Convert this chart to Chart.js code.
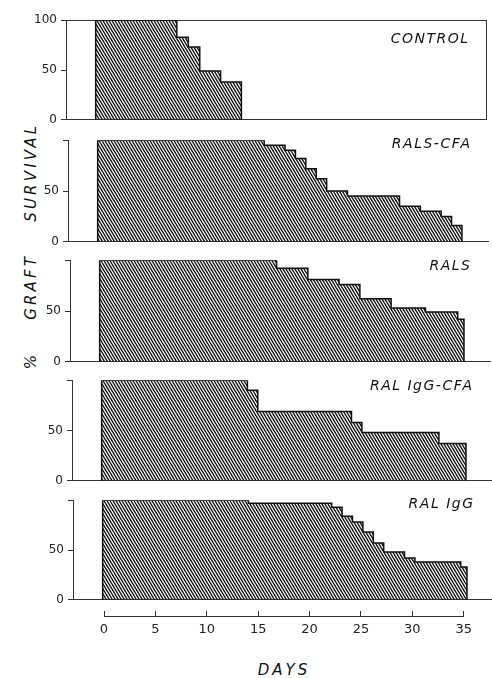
<!DOCTYPE html>
<html>
<head>
<meta charset="utf-8">
<script src="https://cdn.jsdelivr.net/npm/chart.js@4.4.1/dist/chart.umd.min.js"></script>
<style>
  html, body { margin: 0; padding: 0; background: #fff; }
  body { position: relative; width: 492px; height: 678px; overflow: hidden; font-family: "DejaVu Sans", sans-serif; }
  canvas { position: absolute; }
  .tag { position: absolute; font-style: italic; font-size: 14px; line-height: 16px; letter-spacing: 1.5px; color: #111; white-space: nowrap; }
  #ytitle { position: absolute; left: 31px; top: 246px; transform: translate(-50%, -50%) rotate(-90deg);
            font-style: italic; font-size: 15px; letter-spacing: 3.2px; word-spacing: 24px; white-space: pre; color: #111; }
  #xtitle { position: absolute; left: 284px; top: 661px; transform: translateX(-50%);
            font-style: italic; font-size: 15px; line-height: 18px; letter-spacing: 3px; color: #111; }
</style>
</head>
<body>
<div id="ytitle">% GRAFT SURVIVAL</div>
<div id="xtitle">DAYS</div>
<script>
// survival curves: day where a new level starts, and that level (%)
const controlDays = [0, 7.8, 8.9, 10, 12, 14];
const controlSurvival = [100, 83, 73, 49, 38, 0];

const ralsCfaDays = [0, 16, 18, 19, 20, 21, 22, 24, 29, 31, 33, 34, 35];
const ralsCfaSurvival = [100, 95, 90, 82, 72, 62, 50, 45, 35, 30, 25, 16, 0];

const ralsDays = [0, 17, 20, 23, 25, 28, 31.3, 34.4, 35];
const ralsSurvival = [100, 92, 81, 76, 62, 53, 49, 42, 0];

const ralIgGCfaDays = [0, 14, 15, 24, 25, 32.4, 35];
const ralIgGCfaSurvival = [100, 90, 69, 58, 48, 37, 0];

const ralIgGDays = [0, 14, 22, 23, 24, 25, 26, 27, 29, 30, 34.4, 35];
const ralIgGSurvival = [100, 97, 93, 84, 78, 68, 57, 48, 42, 38, 33, 0];

const groupNames = ["CONTROL", "RALS-CFA", "RALS", "RAL IgG-CFA", "RAL IgG"];
const survivalTicks = [0, 50, 100];
const dayTicks = [0, 5, 10, 15, 20, 25, 30, 35];

const groupDays = [controlDays, ralsCfaDays, ralsDays, ralIgGCfaDays, ralIgGDays];
const groupSurvival = [controlSurvival, ralsCfaSurvival, ralsSurvival, ralIgGCfaSurvival, ralIgGSurvival];

// where each panel sits on the page (the scan is a bit skewed)
const panelBoxes = [
  { axisX: 66, top: 19, bottom: 121, labelRight: 468, labelY: 38 },
  { axisX: 68, top: 139, bottom: 243, labelRight: 470, labelY: 143 },
  { axisX: 70, top: 259, bottom: 363, labelRight: 470, labelY: 265 },
  { axisX: 72, top: 379, bottom: 482, labelRight: 472, labelY: 385 },
  { axisX: 73, top: 499, bottom: 601, labelRight: 473, labelY: 503 }
];

const dayMin = -2.85;
const dayMax = 37.5;
const yAxisWidth = 45;
const plotWidth = 420;
const pad = 10;
const axisColor = "#333";
const inkColor = "#111";
const tickFont = { family: "DejaVu Sans", size: 12 };

function makeHatch(ctx) {
  // fine "\\\\" hatching, 3px apart
  const tile = document.createElement("canvas");
  tile.width = 6;
  tile.height = 10;
  const g = tile.getContext("2d");
  g.strokeStyle = inkColor;
  g.lineWidth = 1.4;
  for (const x0 of [-6, -3, 0, 3, 6]) {
    g.beginPath();
    g.moveTo(x0 - 3, -5);
    g.lineTo(x0 + 9, 15);
    g.stroke();
  }
  return ctx.createPattern(tile, "repeat");
}

function hiddenAxis(position, extra) {
  return Object.assign({
    position: position,
    ticks: { display: false },
    grid: { display: false },
    border: { color: axisColor, width: 1 }
  }, extra);
}

function drawPanel(i) {
  const box = panelBoxes[i];
  const canvas = document.createElement("canvas");
  canvas.width = yAxisWidth + plotWidth + 4;
  canvas.height = box.bottom - box.top + 2 * pad;
  canvas.style.left = (box.axisX - yAxisWidth) + "px";
  canvas.style.top = (box.top - pad) + "px";
  document.body.appendChild(canvas);
  const ctx = canvas.getContext("2d");

  const days = groupDays[i];
  const values = groupSurvival[i];
  const points = [{ x: days[0], y: 0 }].concat(days.map((d, k) => ({ x: d, y: values[k] })));

  const scales = {
    x: hiddenAxis("bottom", { type: "linear", min: dayMin, max: dayMax, afterFit: s => { s.height = 0; } }),
    y: {
      position: "left",
      min: 0,
      max: 100,
      afterBuildTicks: s => { s.ticks = survivalTicks.map(v => ({ value: v })); },
      ticks: {
        font: tickFont,
        color: "#222",
        padding: 4,
        callback: v => (v === 100 && i > 0) ? "" : String(v)
      },
      grid: { drawOnChartArea: false, tickLength: 5, color: axisColor },
      border: { color: axisColor, width: 1 },
      afterFit: s => { s.width = yAxisWidth; }
    }
  };
  if (i === 0) {
    // the control panel is boxed in
    scales.xTop = hiddenAxis("top", { type: "linear", min: dayMin, max: dayMax, afterFit: s => { s.height = 0; } });
    scales.yRight = hiddenAxis("right", { min: 0, max: 100, afterFit: s => { s.width = 0; } });
  }

  new Chart(ctx, {
    type: "line",
    data: {
      datasets: [{
        label: groupNames[i],
        data: points,
        stepped: true,
        fill: "origin",
        backgroundColor: makeHatch(ctx),
        borderColor: inkColor,
        borderWidth: 1.5,
        pointRadius: 0
      }]
    },
    options: {
      responsive: false,
      animation: false,
      events: [],
      layout: { padding: { top: pad, bottom: pad, left: 0, right: 4 } },
      plugins: { legend: { display: false }, tooltip: { enabled: false } },
      scales: scales
    }
  });

  const tag = document.createElement("div");
  tag.className = "tag";
  tag.textContent = groupNames[i];
  tag.style.right = (492 - box.labelRight - 1.5) + "px";
  tag.style.top = (box.labelY - 8) + "px";
  document.body.appendChild(tag);
}

for (let i = 0; i < groupNames.length; i++) drawPanel(i);

// the DAYS axis under the last panel
const dayCanvas = document.createElement("canvas");
dayCanvas.width = 362 + 24;
dayCanvas.height = 72;
dayCanvas.style.left = (104 - 12) + "px";
dayCanvas.style.top = "606px";
document.body.appendChild(dayCanvas);

new Chart(dayCanvas.getContext("2d"), {
  type: "line",
  data: { datasets: [] },
  options: {
    responsive: false,
    animation: false,
    events: [],
    layout: { padding: { top: 5, bottom: 0, left: 12, right: 12 } },
    plugins: { legend: { display: false }, tooltip: { enabled: false } },
    scales: {
      x: {
        type: "linear",
        position: "bottom",
        min: 0,
        max: 35,
        afterBuildTicks: s => { s.ticks = dayTicks.map(v => ({ value: v })); },
        ticks: { font: { family: "DejaVu Sans", size: 13 }, color: "#222", padding: 6 },
        grid: { drawOnChartArea: true, drawTicks: false, color: axisColor },
        border: { color: axisColor, width: 1 },
        afterFit: s => { s.height = 62; }
      },
      y: { display: false, min: 0, max: 1 }
    }
  }
});
</script>
</body>
</html>
